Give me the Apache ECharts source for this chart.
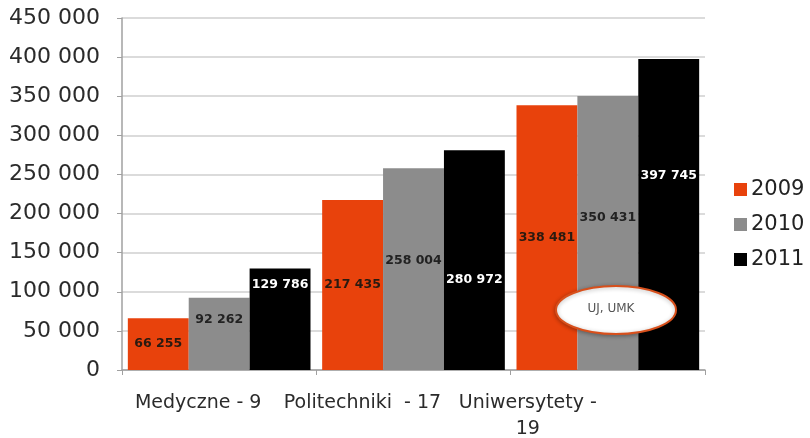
<!DOCTYPE html>
<html>
<head>
<meta charset="utf-8">
<script src="https://cdn.jsdelivr.net/npm/echarts@6/dist/echarts.min.js"></script>
<style>
  html, body { margin: 0; padding: 0; background: #fff; }
  #chart { width: 810px; height: 438px; }
</style>
</head>
<body>
<div id="chart"></div>
<script>
// data
var categories = ['Medyczne - 9', 'Politechniki  - 17', 'Uniwersytety -\n19']
var years = ['2009', '2010', '2011']
var data2009 = [66255, 217435, 338481]
var data2010 = [92262, 258004, 350431]
var data2011 = [129786, 280972, 397745]
var yTicks = [0, 50000, 100000, 150000, 200000, 250000, 300000, 350000, 400000, 450000]

var colors = ['#e8420c', '#8c8c8c', '#000000']
var labelColors = ['#2a1a10', '#222222', '#ffffff']
// the value labels in the original sit at uneven heights
var labelShift = [[0, 0, 0], [-14, -8, -15], [-34, 20, -39]]
// axis labels are shifted left of the group centres in the original
var catPad = [42, 102, 160]

function fmt(v) {
  return String(v).replace(/\B(?=(\d{3})+(?!\d))/g, ' ')
}

var chart = echarts.init(document.getElementById('chart'))
var seriesData = [data2009, data2010, data2011]
var series = []
for (var i = 0; i < years.length; i++) {
  series.push({
    name: years[i],
    type: 'bar',
    barGap: '0%',
    barCategoryGap: '6%',
    itemStyle: { color: colors[i] },
    data: seriesData[i].map(function (v, j) {
      return {
        value: v,
        label: { offset: [0, labelShift[i][j]] }
      }
    }),
    label: {
      show: true,
      position: 'inside',
      color: labelColors[i],
      fontFamily: 'DejaVu Sans',
      fontWeight: 'bold',
      fontSize: 12.5,
      formatter: function (p) { return fmt(p.value) }
    }
  })
}

var catRich = {}
for (var k = 0; k < catPad.length; k++) {
  catRich['c' + k] = { fontFamily: 'DejaVu Sans', fontSize: 19, color: '#2b2b2b', lineHeight: 26, padding: [0, catPad[k], 0, 0] }
}

chart.setOption({
  animation: false,
  grid: { left: 122, right: 105, top: 18, bottom: 68, outerBoundsMode: 'none', containLabel: false },
  legend: {
    orient: 'vertical',
    left: 729,
    top: 174,
    icon: 'rect',
    itemWidth: 13,
    itemHeight: 13,
    itemGap: 14,
    data: years,
    textStyle: { fontFamily: 'DejaVu Sans', fontSize: 21, color: '#222', padding: [0, 0, 0, -1] }
  },
  xAxis: {
    type: 'category',
    data: categories,
    axisLine: { lineStyle: { color: '#a0a0a0', width: 1.5 } },
    axisTick: { show: true, length: 5, lineStyle: { color: '#a0a0a0' } },
    axisLabel: {
      interval: 0,
      margin: 20,
      hideOverlap: false,
      fontFamily: 'DejaVu Sans',
      fontSize: 19,
      color: '#2b2b2b',
      lineHeight: 26,
      formatter: function (v, idx) {
        return v.split('\n').map(function (s) { return '{c' + idx + '|' + s + '}' }).join('\n')
      },
      rich: catRich
    }
  },
  yAxis: {
    type: 'value',
    min: yTicks[0],
    max: yTicks[yTicks.length - 1],
    interval: yTicks[1] - yTicks[0],
    axisLine: { show: true, lineStyle: { color: '#a0a0a0', width: 1.5 } },
    axisTick: { show: true, length: 5, lineStyle: { color: '#a0a0a0' } },
    splitLine: { lineStyle: { color: '#cfcfcf', width: 1.5 } },
    axisLabel: {
      margin: 22,
      fontFamily: 'DejaVu Sans',
      fontSize: 22,
      color: '#2b2b2b',
      formatter: function (v) { return fmt(v) }
    }
  },
  graphic: [{
    type: 'ellipse',
    z: 100,
    shape: { cx: 616, cy: 310, rx: 60, ry: 24 },
    style: { fill: '#ffffff', stroke: '#d8501c', lineWidth: 2, shadowBlur: 4, shadowColor: 'rgba(0,0,0,0.3)', shadowOffsetY: 1 }
  }, {
    type: 'text',
    z: 101,
    x: 611,
    y: 309,
    style: { text: 'UJ, UMK', fill: '#555', font: '12px "DejaVu Sans"', align: 'center', verticalAlign: 'middle' }
  }],
  series: series
})
</script>
</body>
</html>
